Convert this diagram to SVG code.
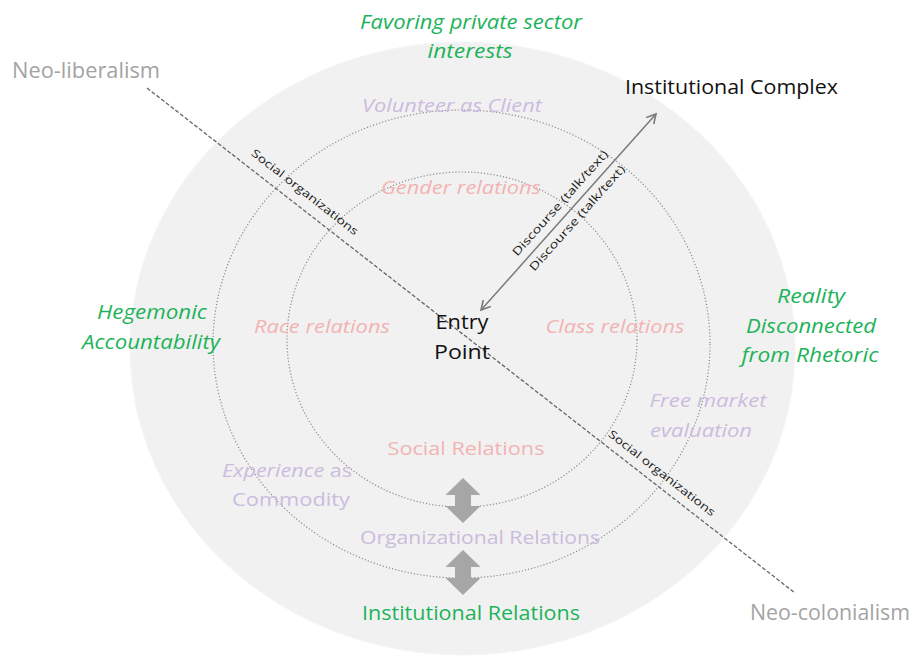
<svg xmlns="http://www.w3.org/2000/svg" width="912" height="657" viewBox="0 0 912 657">
<defs>
<style>
text{font-family:"Open Sans","Noto Sans","Liberation Sans",sans-serif;}
.ring{fill:none;stroke:#8c8c8c;stroke-width:1.2;stroke-dasharray:1.2 2;}
.green{fill:#1db35a;font-style:italic;font-size:20px;}
.greenu{fill:#1db35a;font-size:20px;}
.grey{fill:#a3a3a3;font-size:21px;}
.pink{fill:#f3b3b3;font-style:italic;font-size:19px;}
.pinku{fill:#f3b3b3;font-size:19px;}
.lav{fill:#cbbcde;font-style:italic;font-size:19px;}
.lavu{fill:#cbbcde;font-size:19px;}
.blk{fill:#111;font-size:20px;}
.small{fill:#222;font-size:11px;}
.block{fill:#a6a6a6;}
</style>
<marker id="open" viewBox="0 0 12 12" refX="10" refY="6" markerWidth="12" markerHeight="12" markerUnits="userSpaceOnUse" orient="auto-start-reverse">
<path d="M1,1 L10,6 L1,11" fill="none" stroke="#7a7a7a" stroke-width="1.6"/>
</marker>
</defs>
<rect width="912" height="657" fill="#ffffff"/>
<g id="rings">
<ellipse cx="462.5" cy="348.5" rx="332.5" ry="306.5" fill="#f1f1f1" stroke="#f6f6f6" stroke-width="1"/>
<ellipse class="ring" cx="461.5" cy="344" rx="248.5" ry="234"/>
<ellipse class="ring" cx="462" cy="339.5" rx="175" ry="167.5"/>
</g>
<g id="connectors">
<line x1="147" y1="88" x2="795" y2="593" stroke="#666" stroke-width="1.3" stroke-dasharray="4 2"/>
<line x1="481" y1="310" x2="656" y2="114" stroke="#7a7a7a" stroke-width="1.5" marker-start="url(#open)" marker-end="url(#open)"/>
<polygon class="block" points="463,478 480.5,495 471,495 471,506 480.5,506 463,523 445.5,506 455,506 455,495 445.5,495"/>
<polygon class="block" points="463,550 480.5,567 471,567 471,578 480.5,578 463,595 445.5,578 455,578 455,567 445.5,567"/>
<text class="small" transform="translate(305,192) rotate(37.9)" text-anchor="middle" y="4" textLength="132" lengthAdjust="spacingAndGlyphs">Social organizations</text>
<text class="small" transform="translate(662,473) rotate(37.9)" text-anchor="middle" y="4" textLength="132" lengthAdjust="spacingAndGlyphs">Social organizations</text>
<text class="small" transform="translate(560,203) rotate(-48.2)" text-anchor="middle" y="4" textLength="137" lengthAdjust="spacingAndGlyphs">Discourse (talk/text)</text>
<text class="small" transform="translate(577,218) rotate(-48.2)" text-anchor="middle" y="4" textLength="137" lengthAdjust="spacingAndGlyphs">Discourse (talk/text)</text>
</g>
<g id="favoring">
<text class="green" x="471" y="29" text-anchor="middle" textLength="222" lengthAdjust="spacingAndGlyphs">Favoring private sector</text>
<text class="green" x="470" y="58" text-anchor="middle" textLength="85" lengthAdjust="spacingAndGlyphs">interests</text>
</g>
<g id="neoliberalism"><text class="grey" x="12" y="78" textLength="148" lengthAdjust="spacingAndGlyphs">Neo-liberalism</text></g>
<g id="institutional-complex"><text class="blk" x="625" y="94" textLength="213" lengthAdjust="spacingAndGlyphs">Institutional Complex</text></g>
<g id="volunteer"><text class="lav" x="452" y="112" text-anchor="middle" textLength="180" lengthAdjust="spacingAndGlyphs">Volunteer as Client</text></g>
<g id="gender"><text class="pink" x="461" y="194" text-anchor="middle" textLength="160" lengthAdjust="spacingAndGlyphs">Gender relations</text></g>
<g id="hegemonic">
<text class="green" x="152" y="319" text-anchor="middle" textLength="110" lengthAdjust="spacingAndGlyphs">Hegemonic</text>
<text class="green" x="151" y="349" text-anchor="middle" textLength="138" lengthAdjust="spacingAndGlyphs">Accountability</text>
</g>
<g id="race"><text class="pink" x="322" y="333" text-anchor="middle" textLength="136" lengthAdjust="spacingAndGlyphs">Race relations</text></g>
<g id="entry-point">
<text class="blk" x="462" y="329" text-anchor="middle" textLength="53" lengthAdjust="spacingAndGlyphs">Entry</text>
<text class="blk" x="462" y="359" text-anchor="middle" textLength="56" lengthAdjust="spacingAndGlyphs">Point</text>
</g>
<g id="class"><text class="pink" x="615" y="333" text-anchor="middle" textLength="139" lengthAdjust="spacingAndGlyphs">Class relations</text></g>
<g id="reality">
<text class="green" x="811" y="303" text-anchor="middle" textLength="68" lengthAdjust="spacingAndGlyphs">Reality</text>
<text class="green" x="811" y="333" text-anchor="middle" textLength="130" lengthAdjust="spacingAndGlyphs">Disconnected</text>
<text class="green" x="810" y="362" text-anchor="middle" textLength="137" lengthAdjust="spacingAndGlyphs">from Rhetoric</text>
</g>
<g id="free-market">
<text class="lav" x="708" y="407" text-anchor="middle" textLength="117" lengthAdjust="spacingAndGlyphs">Free market</text>
<text class="lav" x="701" y="437" text-anchor="middle" textLength="102" lengthAdjust="spacingAndGlyphs">evaluation</text>
</g>
<g id="social-relations"><text class="pinku" x="466" y="455" text-anchor="middle" textLength="157" lengthAdjust="spacingAndGlyphs">Social Relations</text></g>
<g id="experience">
<text class="lavu" x="287" y="477" text-anchor="middle" textLength="130" lengthAdjust="spacingAndGlyphs"><tspan font-style="italic">Experience</tspan> as</text>
<text class="lavu" x="291" y="506" text-anchor="middle" textLength="118" lengthAdjust="spacingAndGlyphs">Commodity</text>
</g>
<g id="organizational-relations"><text class="lavu" x="480" y="544" text-anchor="middle" textLength="240" lengthAdjust="spacingAndGlyphs">Organizational Relations</text></g>
<g id="institutional-relations"><text class="greenu" x="471" y="620" text-anchor="middle" textLength="218" lengthAdjust="spacingAndGlyphs">Institutional Relations</text></g>
<g id="neocolonialism"><text class="grey" x="750" y="620" textLength="160" lengthAdjust="spacingAndGlyphs">Neo-colonialism</text></g>
</svg>
